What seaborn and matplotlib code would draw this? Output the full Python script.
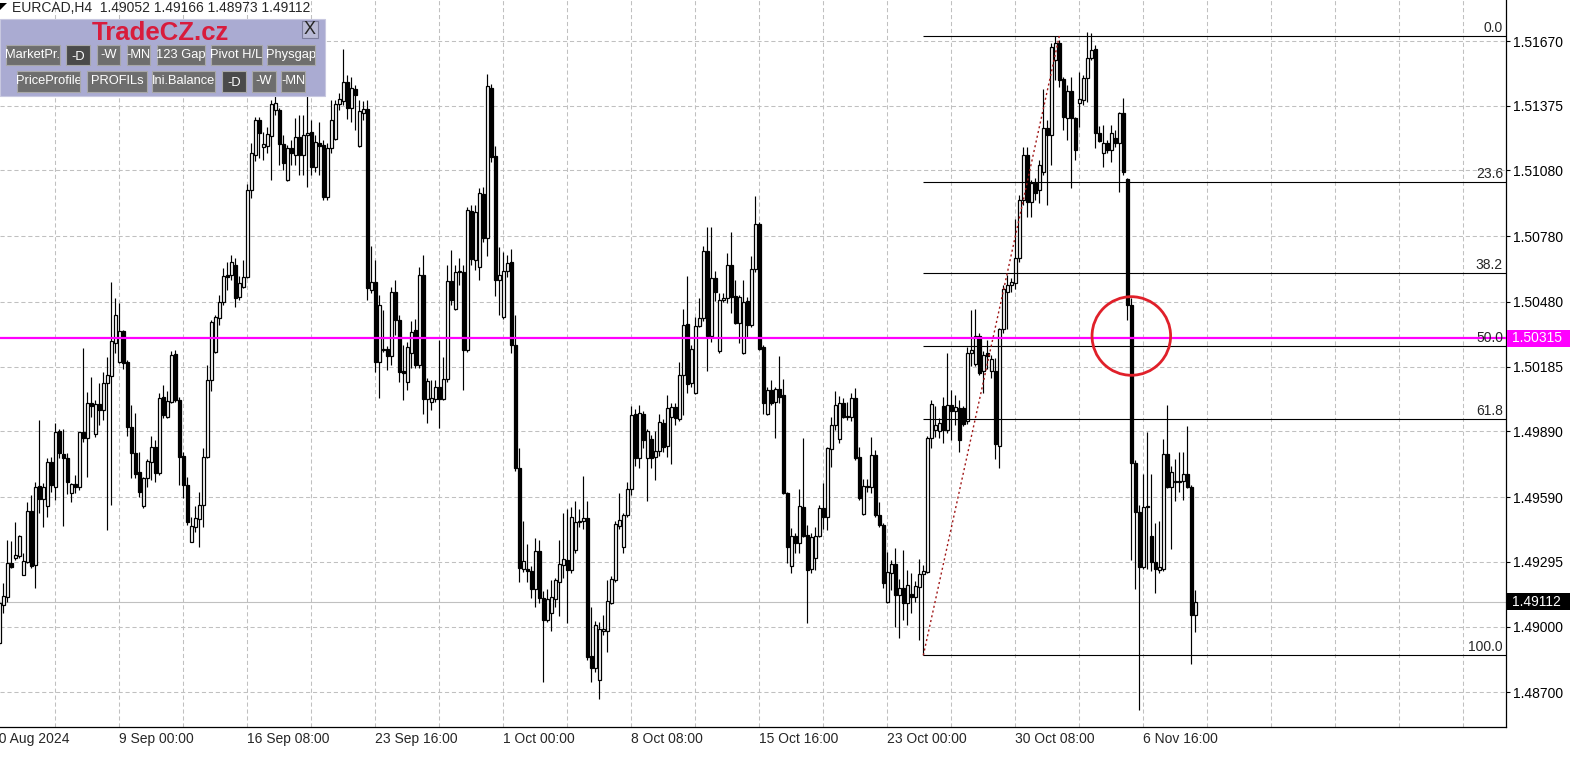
import numpy as np
import pandas as pd
import matplotlib
matplotlib.use("Agg")
import matplotlib.pyplot as plt
import matplotlib.transforms as mtransforms
from matplotlib.patches import Rectangle, Polygon
import seaborn as sns

# EURCAD H4 candles, prices in points (1 point = 0.00001)
open_pts = [
    148925, 149098, 149135, 149289, 149313, 149322, 149235, 149294, 149526, 149280,
    149641, 149582, 149550, 149750, 149636, 149891, 149787, 149769, 149609, 149650,
    149636, 149887, 149860, 150019, 149878, 150015, 149987, 150110, 150143, 150293,
    150206, 150347, 150206, 149910, 149791, 149705, 149550, 149678, 149750, 149819,
    149700, 150047, 149955, 150024, 150243, 150033, 149778, 149645, 149386, 149454,
    149490, 149554, 149773, 150124, 150252, 150407, 150480, 150603, 150603, 150648,
    150503, 150548, 150594, 150991, 151150, 151310, 151187, 151192, 151237, 151355,
    151355, 151201, 151036, 151183, 151150, 151232, 151150, 151241, 151255, 151095,
    151205, 151196, 150959, 151183, 151223, 151383, 151396, 151483, 151365, 151451,
    151192, 151341, 151360, 150535, 150571, 150206, 150261, 150266, 150234, 150526,
    150398, 150165, 150115, 150247, 150352, 150192, 150603, 150038, 150024, 150038,
    150092, 150038, 150129, 150575, 150448, 150617, 150617, 150261, 150894, 150671,
    150639, 150973, 150772, 151456, 151146, 150580, 150411, 150621, 150662, 150284,
    149723, 149262, 149262, 149253, 149171, 149344, 149131, 149030, 149061, 149126,
    149203, 149280, 149303, 149258, 149349, 149477, 149481, 149495, 148866, 148811,
    148756, 148979, 148979, 149107, 149212, 149459, 149363, 149508, 149627, 149969,
    149769, 149969, 149769, 149855, 149773, 149800, 149928, 149824, 149955, 150001,
    149946, 150147, 150380, 150110, 150065, 150371, 150407, 150712, 150325, 150590,
    150256, 150489, 150499, 150648, 150508, 150384, 150247, 150484, 150375, 150630,
    150836, 150275, 149969, 150079, 150024, 150083, 150056, 149609, 149276, 149413,
    149381, 149545, 149417, 149262, 149313, 149413, 149541, 149499, 149810, 149919,
    149855, 150019, 149955, 149955, 150043, 149773, 149513, 149636, 149636, 149782,
    149508, 149463, 149112, 149244, 149285, 149144, 149176, 149107, 149149, 149135,
    149180, 149240, 149249, 149860, 149896, 149891, 150006, 149896, 150010, 149982,
    149997, 149997, 149937, 150247, 150197, 150325, 150165, 150247, 150165, 150165,
    149824, 150357, 150526, 150557, 150566, 150681, 150945, 151150, 150936, 151022,
    150991, 151073, 151274, 151241, 151583, 151661, 151497, 151319, 151442, 151319,
    151387, 151401, 151501, 151593, 151634, 151250, 151159, 151205, 151173, 151228,
    151205, 151341, 151041, 150466, 149745, 149522, 149271, 149545, 149413, 149294,
    149258, 149262, 149787, 149636, 149659, 149664, 149664, 149696, 149636, 149052,
]
high_pts = [
    149121, 149198, 149395, 149390, 149477, 149417, 149335, 149568, 149600, 149659,
    149942, 149654, 149769, 149773, 149928, 149901, 149901, 149791, 149654, 149691,
    149860, 150271, 150070, 150138, 150033, 150110, 150161, 150229, 150571, 150499,
    150475, 150352, 150215, 150010, 149973, 149796, 149682, 149764, 149869, 149851,
    150065, 150101, 150074, 150256, 150261, 150047, 149796, 149682, 149499, 149550,
    149614, 149815, 150192, 150398, 150420, 150512, 150635, 150662, 150694, 150681,
    150599, 150671, 151018, 151205, 151323, 151323, 151255, 151278, 151401, 151433,
    151365, 151241, 151196, 151219, 151319, 151332, 151332, 151420, 151310, 151241,
    151301, 151219, 151205, 151401, 151401, 151433, 151634, 151515, 151506, 151469,
    151401, 151396, 151401, 150736, 150671, 150512, 150443, 150280, 150548, 150580,
    150420, 150284, 150298, 150393, 150402, 150639, 150694, 150134, 150124, 150124,
    150307, 150229, 150648, 150717, 150648, 150681, 150648, 150913, 150922, 150922,
    151000, 151004, 151520, 151474, 151192, 150731, 150708, 150694, 150722, 150420,
    149815, 149481, 149377, 149276, 149404, 149395, 149162, 149171, 149212, 149222,
    149395, 149517, 149536, 149545, 149572, 149536, 149687, 149572, 149089, 149025,
    149021, 149052, 149212, 149231, 149481, 149609, 149517, 149659, 150006, 149992,
    150010, 149982, 149901, 149873, 149891, 149969, 149946, 150056, 150019, 150019,
    150206, 150448, 150599, 150284, 150411, 150499, 150736, 150822, 150822, 150621,
    150521, 150521, 150703, 150799, 150580, 150512, 150580, 150503, 150690, 150964,
    150845, 150284, 150092, 150124, 150092, 150234, 150129, 149614, 149450, 149426,
    149627, 149860, 149463, 149426, 149454, 149554, 149654, 149819, 149955, 150074,
    150052, 150043, 150024, 150065, 150088, 149819, 149673, 149673, 149864, 149805,
    149568, 149472, 149340, 149303, 149359, 149217, 149349, 149258, 149244, 149208,
    149308, 149280, 149869, 150033, 150006, 149951, 150047, 150247, 150079, 150056,
    150033, 150006, 150275, 150443, 150448, 150338, 150256, 150307, 150238, 150225,
    150362, 150557, 150603, 150589, 150858, 150968, 151187, 151187, 151036, 151046,
    151127, 151451, 151310, 151661, 151693, 151675, 151506, 151469, 151506, 151323,
    151529, 151515, 151711, 151706, 151652, 151283, 151287, 151219, 151287, 151264,
    151346, 151411, 151046, 150499, 149759, 149554, 149696, 149887, 149696, 149472,
    149481, 149855, 150010, 149732, 149764, 149796, 149796, 149915, 149645, 149166,
]
low_pts = [
    148916, 149061, 149112, 149267, 149303, 149313, 149235, 149289, 149267, 149176,
    149517, 149454, 149499, 149614, 149577, 149769, 149459, 149605, 149568, 149609,
    149623, 149842, 149682, 149955, 149864, 149919, 149942, 149440, 149554, 150247,
    150201, 150174, 149869, 149678, 149678, 149591, 149541, 149636, 149668, 149659,
    149691, 149951, 149951, 150019, 150024, 149645, 149587, 149463, 149386, 149431,
    149363, 149454, 149769, 150074, 150247, 150375, 150466, 150535, 150580, 150457,
    150489, 150544, 150590, 150955, 151122, 151137, 151127, 151159, 151036, 151332,
    151104, 151082, 151031, 151104, 151104, 151059, 151059, 151004, 151059, 151073,
    151059, 150945, 150945, 151159, 151219, 151355, 151378, 151314, 151301, 151264,
    151187, 151310, 150489, 150521, 150161, 150043, 150252, 150170, 150192, 150329,
    150115, 150033, 150079, 150179, 150179, 150179, 149969, 149928, 149987, 150024,
    149906, 150033, 150115, 150466, 150443, 150557, 150079, 150252, 150648, 150626,
    150580, 150754, 150690, 151118, 150508, 150420, 150402, 150594, 150247, 149709,
    149203, 149249, 149203, 149131, 149089, 149107, 148747, 149021, 148979, 149089,
    149048, 149222, 149016, 149244, 149335, 149454, 149445, 148847, 148747, 148793,
    148670, 148961, 148884, 149103, 149203, 149445, 149335, 149499, 149600, 149732,
    149723, 149815, 149572, 149723, 149668, 149778, 149796, 149773, 149741, 149919,
    149937, 149964, 150065, 150092, 150061, 150366, 150393, 150165, 150298, 150484,
    150247, 150480, 150475, 150429, 150380, 150293, 150243, 150320, 150366, 150617,
    150261, 149969, 149964, 150010, 149860, 150019, 149605, 149289, 149244, 149335,
    149335, 149408, 149016, 149244, 149258, 149408, 149445, 149440, 149728, 149896,
    149837, 149951, 149942, 149937, 149759, 149577, 149508, 149614, 149609, 149499,
    149454, 149176, 149107, 149167, 148998, 148948, 149030, 149007, 149061, 149112,
    148939, 148869, 149244, 149815, 149864, 149860, 149837, 149882, 149851, 149919,
    149796, 149915, 149924, 150188, 150188, 150147, 150065, 150174, 150133, 149764,
    149723, 150338, 150357, 150526, 150539, 150662, 150922, 150867, 150867, 150945,
    150931, 151059, 150922, 151104, 151492, 151460, 151264, 151219, 151000, 151127,
    151278, 151378, 151392, 151583, 151183, 151210, 151095, 151159, 151118, 151187,
    150982, 151059, 150398, 149303, 149171, 148619, 149262, 149262, 149253, 149153,
    149244, 149253, 149632, 149354, 149572, 149614, 149577, 149632, 148829, 148973,
]
close_pts = [
    149107, 149140, 149289, 149271, 149326, 149413, 149298, 149526, 149276, 149636,
    149582, 149636, 149750, 149645, 149887, 149791, 149769, 149659, 149650, 149636,
    149887, 149860, 150019, 150006, 150015, 149987, 150110, 150147, 150302, 150420,
    150347, 150201, 149910, 149791, 149696, 149614, 149678, 149754, 149819, 149700,
    150043, 149964, 150028, 150238, 150033, 149773, 149645, 149477, 149459, 149495,
    149554, 149773, 150124, 150389, 150411, 150480, 150599, 150594, 150662, 150499,
    150566, 150594, 150991, 151159, 151310, 151250, 151201, 151246, 151383, 151387,
    151201, 151113, 151183, 151159, 151232, 151150, 151241, 151250, 151095, 151210,
    151192, 150959, 151183, 151310, 151383, 151406, 151483, 151365, 151456, 151424,
    151350, 151360, 150544, 150571, 150206, 150466, 150266, 150234, 150526, 150398,
    150161, 150156, 150275, 150343, 150192, 150603, 150038, 150119, 150043, 150092,
    150038, 150129, 150575, 150489, 150617, 150621, 150261, 150899, 150676, 150890,
    150977, 150772, 151465, 151141, 150580, 150603, 150621, 150657, 150284, 149723,
    149267, 149298, 149253, 149171, 149344, 149131, 149030, 149126, 149135, 149212,
    149285, 149308, 149258, 149499, 149477, 149481, 149495, 148861, 148811, 149007,
    148989, 148989, 149116, 149217, 149468, 149486, 149508, 149627, 149964, 149769,
    149973, 149851, 149891, 149769, 149800, 149933, 149819, 149997, 150001, 149951,
    150147, 150375, 150106, 150266, 150371, 150407, 150712, 150325, 150590, 150526,
    150489, 150499, 150648, 150503, 150384, 150503, 150480, 150375, 150630, 150836,
    150266, 150019, 150079, 150019, 150083, 150047, 149609, 149363, 149413, 149381,
    149550, 149413, 149258, 149408, 149413, 149541, 149499, 149815, 149919, 150010,
    150019, 149955, 149960, 150043, 149769, 149587, 149641, 149641, 149782, 149508,
    149463, 149198, 149249, 149285, 149144, 149176, 149107, 149189, 149135, 149185,
    149240, 149253, 149860, 150015, 149919, 149928, 149896, 150010, 149982, 150001,
    149851, 149924, 150247, 150261, 150325, 150156, 150238, 150234, 150220, 149833,
    150357, 150539, 150557, 150571, 150681, 150945, 151150, 150936, 151022, 150977,
    151104, 151274, 151241, 151643, 151661, 151492, 151323, 151442, 151319, 151173,
    151406, 151501, 151593, 151629, 151250, 151214, 151205, 151173, 151250, 151205,
    151341, 151073, 150466, 149745, 149522, 149271, 149545, 149550, 149294, 149262,
    149271, 149787, 149636, 149705, 149664, 149659, 149696, 149636, 149052, 149112,
]

price_ticks = [1.51670, 1.51375, 1.51080, 1.50780, 1.50480, 1.50185,
               1.49890, 1.49590, 1.49295, 1.49000, 1.48700]
time_labels = ["30 Aug 2024", "9 Sep 00:00", "16 Sep 08:00", "23 Sep 16:00",
               "1 Oct 00:00", "8 Oct 08:00", "15 Oct 16:00", "23 Oct 00:00",
               "30 Oct 08:00", "6 Nov 16:00"]
time_label_bars = [-2, 30, 62, 94, 126, 158, 190, 222, 254, 286]

fib_levels = [0.0, 23.6, 38.2, 50.0, 61.8, 100.0]
fib_high, fib_low = 1.51693, 1.48869
fib_low_bar, fib_high_bar = 231, 265
level_price = 1.50315
bid_price = 1.49112
circle_bar, circle_price = 283, 1.50325
header = "EURCAD,H4  1.49052 1.49166 1.48973 1.49112"

df = pd.DataFrame({"open": open_pts, "high": high_pts,
                   "low": low_pts, "close": close_pts}) / 1e5
df["bar"] = np.arange(len(df))
df["bull"] = df["close"] >= df["open"]

W, H = 1578, 758
AX_W, AX_H = 1506, 727
X0, X1 = 0.17, 376.67
Y0, Y1 = 1.48542, 1.51857

sns.set_style("white")
plt.rcParams["font.family"] = ["Liberation Sans", "DejaVu Sans"]
plt.rcParams["lines.scale_dashes"] = False

fig = plt.figure(figsize=(W / 100, H / 100), dpi=100)
ax = fig.add_axes([0, (H - AX_H) / H, AX_W / W, AX_H / H])
ax.set_xlim(X0, X1)
ax.set_ylim(Y0, Y1)

# grid + axes
ax.set_yticks(price_ticks)
ax.set_yticklabels([f"{p:.5f}" for p in price_ticks])
ax.yaxis.tick_right()
ax.tick_params(axis="y", direction="out", length=3, width=0.8, pad=2,
               labelsize=10, colors="black")
ax.set_xticks(time_label_bars[1:])
ax.set_xticklabels([])
ax.set_xticks(np.arange(14, 376, 16), minor=True)
ax.tick_params(axis="x", which="major", direction="out", length=4, width=0.8)
ax.tick_params(axis="x", which="minor", length=0)
ax.grid(True, which="both", color="#c0c0c0", lw=0.75, linestyle=(0, (3, 2)))
ax.set_axisbelow(True)
for s in ["left", "top"]:
    ax.spines[s].set_visible(False)
for s in ["right", "bottom"]:
    ax.spines[s].set_color("black")
    ax.spines[s].set_linewidth(0.9)

xtrans = mtransforms.blended_transform_factory(ax.transData, ax.transAxes)
for b, lab in zip(time_label_bars, time_labels):
    ax.text(b, -0.007, lab, transform=xtrans, ha="left", va="top",
            fontsize=10, clip_on=False)

# bid line
ax.axhline(bid_price, color="#c0c0c0", lw=0.8, zorder=1.5)

# candles
ax.vlines(df["bar"], df["low"], df["high"], color="black", lw=0.85, zorder=2)
body_low = df[["open", "close"]].min(axis=1)
body_h = (df["close"] - df["open"]).abs()
ax.bar(df["bar"], body_h, bottom=body_low, width=0.6,
       color=np.where(df["bull"], "white", "black"),
       edgecolor="black", linewidth=0.9, zorder=3)

# fibonacci
ytrans = mtransforms.blended_transform_factory(ax.transAxes, ax.transData)
for lvl in fib_levels:
    p = fib_high - (fib_high - fib_low) * lvl / 100
    ax.hlines(p, fib_low_bar - 0.1, X1, color="black", lw=0.8, zorder=4)
    ax.text(0.998, p + 0.00004, f"{lvl:.1f}", transform=ytrans, ha="right",
            va="bottom", fontsize=10, zorder=6)
sns.lineplot(x=[fib_low_bar, fib_high_bar], y=[fib_low, fib_high], ax=ax,
             color="#a01818", lw=1.0, linestyle=(0, (1.5, 2)), zorder=4)

# horizontal level + circle
ax.axhline(level_price, color="#ff00ff", lw=1.6, zorder=5)
ax.scatter([circle_bar], [circle_price], s=3200, facecolors="none",
           edgecolors="#e0202a", linewidths=2.0, zorder=7)

# right price boxes
ppx = (Y1 - Y0) / AX_H
for price, fc in [(level_price, "#ff00ff"), (bid_price, "black")]:
    ax.add_patch(Rectangle((1 + 1 / AX_W, price - 8.5 * ppx), 63 / AX_W, 17 * ppx,
                           transform=ytrans, fc=fc, ec="none", clip_on=False, zorder=9))
    ax.text(1 + 6 / AX_W, price, f"{price:.5f}", transform=ytrans, ha="left",
            va="center", fontsize=10, color="white", clip_on=False, zorder=10)


# header and control panel (figure pixels, origin top-left)
def fx(x):
    return x / W


def fy(y):
    return 1 - y / H


fig.text(fx(12), fy(8), header, ha="left", va="center", fontsize=10)
fig.add_artist(Polygon([(fx(0), fy(3)), (fx(7), fy(3)), (fx(0), fy(10))],
                       closed=True, fc="black", ec="none", transform=fig.transFigure))

fig.add_artist(Rectangle((fx(0), fy(96)), fx(325), 77 / H, transform=fig.transFigure,
                         fc="#aaabd2", ec="#c8c8e0", lw=0.8))
fig.text(fx(160), fy(33), "TradeCZ.cz", ha="center", va="center", fontsize=18.5,
         fontweight="bold", color="#d81c3c")
fig.add_artist(Rectangle((fx(302), fy(38)), fx(16), 17 / H, transform=fig.transFigure,
                         fc="#b9bad6", ec="#7d7e9e", lw=0.8))
fig.text(fx(310), fy(29.5), "X", ha="center", va="center", fontsize=13)

buttons = [("MarketPr.", 6, 60, 1, False), ("-D", 66, 90, 1, True),
           ("-W", 97, 120, 1, False), ("-MN", 127, 150, 1, False),
           ("123 Gap", 157, 205, 1, False), ("Pivot H/L", 211, 262, 1, False),
           ("Physgap", 267, 315, 1, False), ("PriceProfile", 17, 80, 2, False),
           ("PROFILs", 87, 147, 2, False), ("Ini.Balance", 152, 215, 2, False),
           ("-D", 222, 246, 2, True), ("-W", 252, 276, 2, False),
           ("-MN", 281, 305, 2, False)]
rows = {1: (45, 65), 2: (71, 92)}
for name, bx0, bx1, row, pressed in buttons:
    ry0, ry1 = rows[row]
    rect = Rectangle((fx(bx0), fy(ry1)), fx(bx1 - bx0), (ry1 - ry0) / H,
                     transform=fig.transFigure,
                     fc="#4a4a4a" if pressed else "#6e6e6e", ec="#a8a8a8", lw=0.8)
    fig.add_artist(rect)
    t = fig.text(fx((bx0 + bx1) / 2), fy((ry0 + ry1) / 2 + (1.5 if pressed else 0)),
                 name, ha="center", va="center", fontsize=9.3, color="white")
    t.set_clip_path(rect)

fig.savefig("out.png", dpi=100)
